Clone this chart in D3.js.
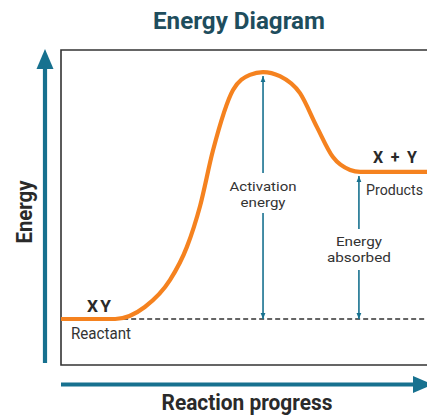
<!DOCTYPE html>
<html>
<head>
<meta charset="utf-8">
<script src="https://cdn.jsdelivr.net/npm/d3@7"></script>
<style>
  body { margin: 0; background: #fff; }
  svg { display: block; font-family: Roboto, "Open Sans", sans-serif; }
</style>
</head>
<body>
<div id="chart"></div>
<script>
// curve points: reaction progress (0-100) vs energy (0-100)
const progress = [0, 14.8, 22.9, 29.8, 34.4, 38.0, 41.5, 47.0, 51.6, 55.2, 59.8, 65.3, 69.9, 74.3, 79.0, 81.7, 100];
const energy   = [14.6, 14.6, 18.4, 27.0, 37.5, 50.5, 68.0, 87.3, 92.1, 93.0, 91.7, 86.3, 75.6, 66.0, 61.9, 61.3, 61.3];

const reactantLevel = 14.6, peakLevel = 93.0, productLevel = 61.3;
const peakProgress = 55.2, absorbedProgress = 81.4;

const labels = {
  title: "Energy Diagram",
  xTitle: "Reaction progress",
  yTitle: "Energy",
  reactant: "XY",
  reactantName: "Reactant",
  product: "X + Y",
  productName: "Products",
  activation: ["Activation", "energy"],
  absorbed: ["Energy", "absorbed"]
};

// general dimensions
const W = 427, H = 418,
  box = {left: 61, top: 50, bottom: 365, right: 427};

const teal = "#17718f", orange = "#f5821f", ink = "#2a2a2a";

const x = d3.scaleLinear().domain([0, 100]).range([box.left, box.right]);
const y = d3.scaleLinear().domain([0, 100]).range([box.bottom, box.top]);

const svg = d3.select("#chart").append("svg")
  .attr("width", W).attr("height", H);

const defs = svg.append("defs");
defs.append("marker")
  .attr("id", "tip")
  .attr("viewBox", "0 0 10 10")
  .attr("refX", 10).attr("refY", 5)
  .attr("markerWidth", 6).attr("markerHeight", 6)
  .attr("markerUnits", "userSpaceOnUse")
  .attr("orient", "auto-start-reverse")
  .append("path").attr("d", "M0,1 L10,5 L0,9 Z").attr("fill", teal);

// title
svg.append("text")
  .attr("x", 239).attr("y", 29)
  .attr("text-anchor", "middle")
  .attr("textLength", 172).attr("lengthAdjust", "spacingAndGlyphs")
  .style("font-size", "23px").style("font-weight", "700")
  .attr("fill", "#1e4d5d")
  .text(labels.title);

// frame
svg.append("path")
  .attr("d", `M${box.right + 5},${box.top} H${box.left} V${box.bottom} H${box.right + 5}`)
  .attr("fill", "none").attr("stroke", "#333").attr("stroke-width", 1.6);

// big axis arrows
const bigHead = function(tx, ty, dir){
  const L = 20, w = 8.5;
  const p = dir === "up"
    ? [[tx, ty], [tx - w, ty + L], [tx + w, ty + L]]
    : [[tx, ty], [tx - L, ty - w], [tx - L, ty + w]];
  svg.append("path").attr("d", d3.line()(p) + "Z").attr("fill", teal);
};
svg.append("line")
  .attr("x1", 45).attr("x2", 45).attr("y1", 363).attr("y2", 66)
  .attr("stroke", teal).attr("stroke-width", 4.2);
bigHead(45, 49, "up");
svg.append("line")
  .attr("x1", box.left).attr("x2", 418).attr("y1", 384.5).attr("y2", 384.5)
  .attr("stroke", teal).attr("stroke-width", 4.2);
bigHead(433, 384.5, "right");

// axis titles
svg.append("text")
  .attr("x", 247).attr("y", 410)
  .attr("text-anchor", "middle")
  .attr("textLength", 171).attr("lengthAdjust", "spacingAndGlyphs")
  .style("font-size", "22px").style("font-weight", "700")
  .attr("fill", ink)
  .text(labels.xTitle);
svg.append("text")
  .attr("transform", "translate(32,212) rotate(-90)")
  .attr("text-anchor", "middle")
  .attr("textLength", 63).attr("lengthAdjust", "spacingAndGlyphs")
  .style("font-size", "22px").style("font-weight", "700")
  .attr("fill", ink)
  .text(labels.yTitle);

// reactant baseline (dashed)
svg.append("line")
  .attr("x1", x(14.8)).attr("x2", box.right)
  .attr("y1", y(reactantLevel)).attr("y2", y(reactantLevel))
  .attr("stroke", "#333").attr("stroke-width", 1.4)
  .attr("stroke-dasharray", "5,3");

// energy curve
const pts = progress.map((p, i) => [x(p), y(energy[i])]);
svg.append("path")
  .attr("d", d3.line().curve(d3.curveMonotoneX)(pts))
  .attr("fill", "none").attr("stroke", orange).attr("stroke-width", 4.2)
  .attr("stroke-linejoin", "round");

// double arrows with a gap for the label
const gapArrow = function(px, top, bottom, gapTop, gapBottom){
  const g = svg.append("g").attr("stroke", teal).attr("stroke-width", 1.6);
  g.append("line").attr("x1", x(px)).attr("x2", x(px))
    .attr("y1", gapTop).attr("y2", top).attr("marker-end", "url(#tip)");
  g.append("line").attr("x1", x(px)).attr("x2", x(px))
    .attr("y1", gapBottom).attr("y2", bottom).attr("marker-end", "url(#tip)");
};
gapArrow(peakProgress, y(peakLevel) + 4, y(reactantLevel), 173, 213);
gapArrow(absorbedProgress, y(productLevel) + 4, y(reactantLevel), 229, 270);

const twoLines = function(cx, lines, baselines, widths){
  lines.forEach((t, i) => {
    svg.append("text")
      .attr("x", cx).attr("y", baselines[i])
      .attr("text-anchor", "middle")
      .attr("textLength", widths[i]).attr("lengthAdjust", "spacingAndGlyphs")
      .style("font-size", "13.5px")
      .attr("fill", "#333")
      .text(t);
  });
};
twoLines(x(peakProgress), labels.activation, [191, 207], [67, 45]);
twoLines(x(absorbedProgress), labels.absorbed, [246, 262], [46, 64]);

// level labels
svg.append("text")
  .attr("x", 100).attr("y", 312)
  .attr("text-anchor", "middle")
  .attr("textLength", 26).attr("lengthAdjust", "spacingAndGlyphs")
  .style("font-size", "16px").style("font-weight", "700")
  .style("letter-spacing", "2px")
  .attr("fill", ink).text(labels.reactant);
svg.append("text")
  .attr("x", 71).attr("y", 339)
  .attr("textLength", 60).attr("lengthAdjust", "spacingAndGlyphs")
  .style("font-size", "16px")
  .attr("fill", "#333").text(labels.reactantName);
svg.append("text")
  .attr("x", 395).attr("y", 163)
  .attr("text-anchor", "middle")
  .attr("textLength", 44).attr("lengthAdjust", "spacing")
  .style("font-size", "16px").style("font-weight", "700")
  .attr("fill", ink).text(labels.product);
svg.append("text")
  .attr("x", 366).attr("y", 195)
  .attr("textLength", 57).attr("lengthAdjust", "spacingAndGlyphs")
  .style("font-size", "14.5px")
  .attr("fill", "#333").text(labels.productName);
</script>
</body>
</html>
